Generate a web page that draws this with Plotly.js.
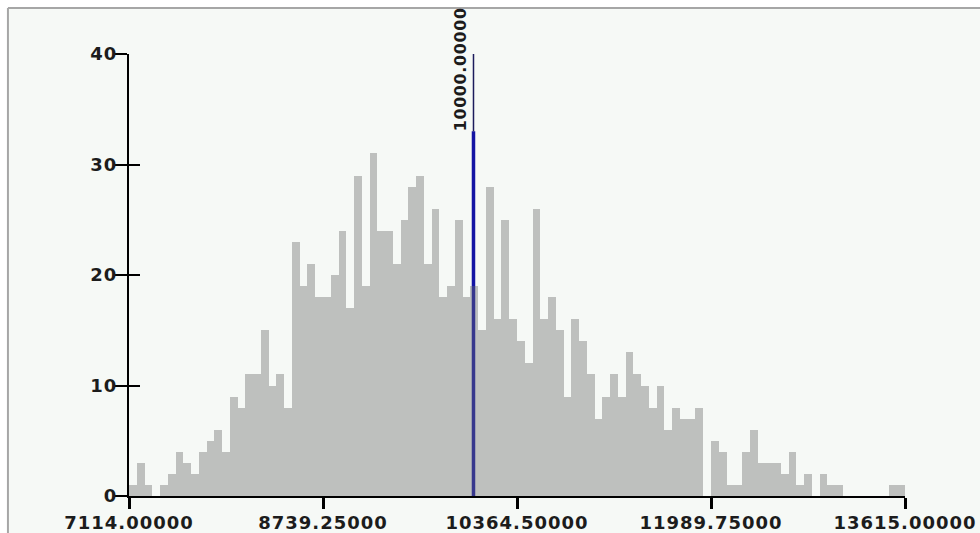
<!DOCTYPE html>
<html><head><meta charset="utf-8">
<script src="https://cdn.plot.ly/plotly-3.0.1.min.js"></script>
<style>
html,body{margin:0;padding:0;background:#fff;}
#chart{width:980px;height:533px;}
.xtick text, .ytick text {letter-spacing:1px;}
.annotation-text {letter-spacing:0.6px;}
</style></head><body><div id="chart"></div>
<script>
// histogram range and counts (100 equal bins)
const binStart = 7114;
const binEnd = 13615;
const counts = [
  1,3,1,0,1,2,4,3,2,4,5,6,4,9,8,11,11,
  15,10,11,8,23,19,21,18,18,20,24,17,29,19,31,24,
  24,21,25,28,29,21,26,18,19,25,18,19,15,28,16,25,
  16,14,12,26,16,18,15,9,16,14,11,7,9,11,9,13,11,
  10,8,10,6,8,7,7,8,0,5,4,1,1,4,6,3,3,
  3,2,4,1,2,0,2,1,1,0,0,0,0,0,0,1,1
];
const xTickValues = [7114, 8739.25, 10364.5, 11989.75, 13615];
const xTickLabels = ["7114.00000","8739.25000","10364.50000","11989.75000","13615.00000"];
const yTickValues = [0, 10, 20, 30, 40];
const markerValue = 10000;
const markerLabel = "10000.00000";
const markerThickTop = 33;
const markerTop = 40;

const binWidth = (binEnd - binStart) / counts.length;
const centers = counts.map((_, i) => binStart + binWidth * (i + 0.5));

const fontFam = "DejaVu Sans, Verdana, sans-serif";
const labelFont = {family: fontFam, size: 18, color: '#1c1c1c', weight: 'bold'};
const markerFont = {family: fontFam, size: 16, color: '#1c1c1c', weight: 'bold'};

const traces = [
  {
    type: 'bar', x: centers, y: counts, width: binWidth,
    marker: {color: 'rgba(108,108,108,0.4)', line: {width: 0}},
    hoverinfo: 'skip', showlegend: false
  },
  {
    type: 'scatter', mode: 'markers', x: [null], y: [null], yaxis: 'y2',
    hoverinfo: 'skip', showlegend: false
  }
];

const layout = {
  width: 980, height: 533,
  margin: {l: 129, r: 75, t: 54, b: 37, pad: 0},
  paper_bgcolor: '#ffffff',
  plot_bgcolor: 'rgba(0,0,0,0)',
  bargap: 0,
  showlegend: false,
  font: labelFont,
  xaxis: {
    range: [binStart, binEnd], tickvals: xTickValues, ticktext: xTickLabels,
    ticks: 'outside', ticklen: 11, tickwidth: 3, tickcolor: '#000',
    ticklabelstandoff: -2,
    showline: true, linewidth: 2, linecolor: '#000',
    showgrid: false, zeroline: false,
    tickfont: labelFont
  },
  yaxis: {
    range: [0, markerTop], tickvals: yTickValues,
    ticks: 'outside', ticklen: 12, tickwidth: 2, tickcolor: '#000',
    ticklabelstandoff: -6,
    showline: true, linewidth: 2, linecolor: '#000',
    showgrid: false, zeroline: false,
    tickfont: labelFont
  },
  yaxis2: {
    overlaying: 'y', side: 'left', range: [0, markerTop], tickvals: yTickValues,
    ticks: 'inside', ticklen: 11, tickwidth: 2, tickcolor: '#000',
    showticklabels: false, showline: false, showgrid: false, zeroline: false
  },
  shapes: [
    {type: 'rect', xref: 'paper', yref: 'paper', x0: -0.156, x1: 1.2, y0: -0.2, y1: 1.104,
     fillcolor: '#f6f9f6', line: {width: 0}, layer: 'below'},
    {type: 'line', xref: 'paper', yref: 'paper', x0: -0.156, x1: -0.156, y0: -0.2, y1: 1.104,
     line: {color: '#a6a6a6', width: 2}, layer: 'below'},
    {type: 'line', xref: 'paper', yref: 'paper', x0: -0.156, x1: 1.2, y0: 1.104, y1: 1.104,
     line: {color: '#a6a6a6', width: 2}, layer: 'below'},
    {type: 'line', xref: 'x', yref: 'y', x0: markerValue, x1: markerValue, y0: 0, y1: markerThickTop,
     line: {color: '#1414a4', width: 3.5}, layer: 'below'},
    {type: 'line', xref: 'x', yref: 'y', x0: markerValue, x1: markerValue, y0: markerThickTop, y1: markerTop,
     line: {color: '#1c1c5c', width: 1.5}, layer: 'below'}
  ],
  annotations: [
    {x: markerValue, y: markerThickTop, xref: 'x', yref: 'y', text: markerLabel,
     textangle: -90, showarrow: false, xanchor: 'right', yanchor: 'bottom',
     xshift: -2, yshift: -2, font: markerFont}
  ]
};

Plotly.newPlot('chart', traces, layout, {staticPlot: true, displayModeBar: false});
</script></body></html>
